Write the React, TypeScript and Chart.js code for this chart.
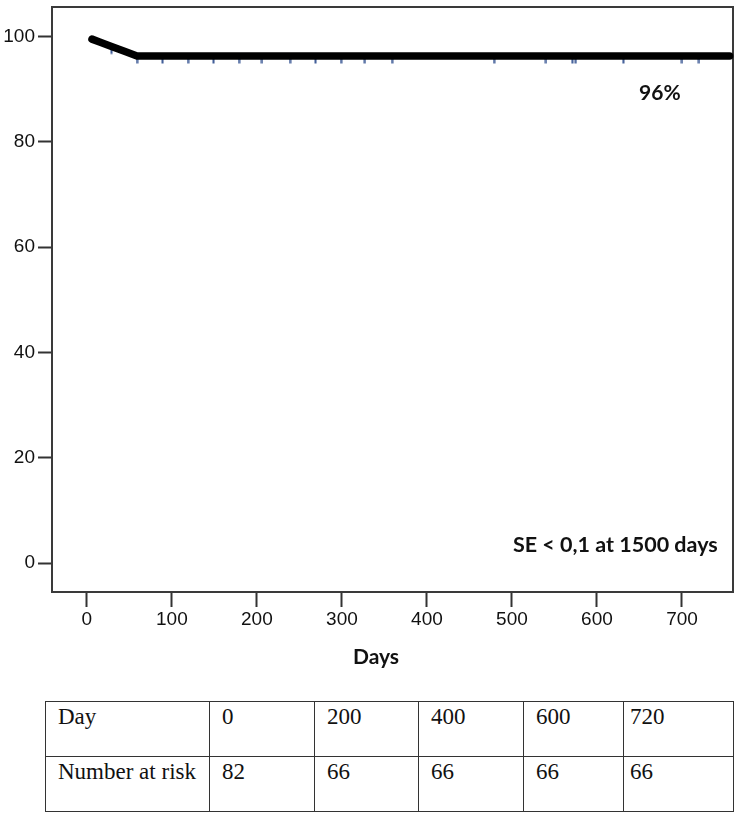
import React, { useEffect, useRef } from "react";
import { Chart, registerables } from "chart.js";

Chart.register(...registerables);

// Kaplan-Meier curve (days, survival %)
const curveDays = [6, 15, 29, 45, 59, 756];
const curveSurvival = [99.5, 98.95, 98.1, 97.15, 96.3, 96.3];

// Censoring marks
const censorDays = [29, 59, 89, 119, 149, 179, 206, 239, 269, 299, 327, 359, 479, 540, 571, 575, 631, 700, 720];
const censorSurvival = [98.1, 96.3, 96.3, 96.3, 96.3, 96.3, 96.3, 96.3, 96.3, 96.3, 96.3, 96.3, 96.3, 96.3, 96.3, 96.3, 96.3, 96.3, 96.3];

const xTicks = [0, 100, 200, 300, 400, 500, 600, 700];
const yTicks = [0, 20, 40, 60, 80, 100];

const tableHeader = "Day";
const tableDays = ["0", "200", "400", "600", "720"];
const tableRowLabel = "Number at risk";
const atRisk = ["82", "66", "66", "66", "66"];

const finalLabel = "96%";
const seLabel = "SE < 0,1 at 1500 days";
const xTitle = "Days";

function makeCensorMark(): HTMLCanvasElement {
  const c = document.createElement("canvas");
  c.width = 3;
  c.height = 22;
  const g = c.getContext("2d")!;
  g.fillStyle = "#3d5a96";
  g.fillRect(0.5, 8, 2, 10.5);
  return c;
}

const framePlugin = {
  id: "frameAndText",
  beforeDatasetsDraw(chart: any) {
    const { ctx, chartArea } = chart;
    ctx.save();
    ctx.strokeStyle = "#3a3a3a";
    ctx.lineWidth = 2;
    ctx.strokeRect(chartArea.left, chartArea.top, chartArea.right - chartArea.left, chartArea.bottom - chartArea.top);
    ctx.restore();
  },
  afterDraw(chart: any) {
    const { ctx } = chart;
    const xs = chart.scales.x;
    const ys = chart.scales.y;
    ctx.save();
    ctx.fillStyle = "#111";
    ctx.textBaseline = "middle";
    ctx.font = "bold 21px Lato, 'Open Sans', sans-serif";
    ctx.textAlign = "center";
    ctx.fillText(finalLabel, xs.getPixelForValue(674), ys.getPixelForValue(89.2));
    ctx.font = "bold 21.5px Lato, 'Open Sans', sans-serif";
    ctx.textAlign = "right";
    ctx.fillText(seLabel, xs.getPixelForValue(742), ys.getPixelForValue(3.4));
    ctx.font = "bold 21px Lato, 'Open Sans', sans-serif";
    ctx.textAlign = "center";
    ctx.fillText(xTitle, 376, 657);
    ctx.restore();
  },
};

export default function App() {
  const ref = useRef<HTMLCanvasElement | null>(null);
  useEffect(() => {
    if (!ref.current) return;
    const tickFont = { family: "'Liberation Sans', Arial, sans-serif", size: 19 };
    const mark = makeCensorMark();
    const chart = new Chart(ref.current, {
      type: "scatter",
      data: {
        datasets: [
          {
            type: "line",
            data: curveDays.map((d, i) => ({ x: d, y: curveSurvival[i] })),
            borderColor: "#000",
            borderWidth: 7.5,
            borderCapStyle: "round",
            borderJoinStyle: "round",
            pointRadius: 0,
            fill: false,
            tension: 0,
            clip: false,
            order: 1,
          } as any,
          {
            type: "scatter",
            data: censorDays.map((d, i) => ({ x: d, y: censorSurvival[i] })),
            pointStyle: mark,
            pointRadius: 6,
            order: 2,
          } as any,
        ],
      },
      options: {
        animation: false,
        responsive: false,
        maintainAspectRatio: false,
        layout: { padding: { top: 5, right: 9, left: 0, bottom: 0 } },
        plugins: { legend: { display: false }, tooltip: { enabled: false } },
        scales: {
          x: {
            type: "linear",
            min: -41,
            max: 760,
            afterBuildTicks: (s: any) => {
              s.ticks = xTicks.map((v) => ({ value: v }));
            },
            afterFit: (s: any) => {
              s.height = 98;
              s.paddingLeft = 0;
              s.paddingRight = 0;
            },
            grid: { drawOnChartArea: false, drawTicks: true, tickLength: 15, tickWidth: 2, tickColor: "#333" },
            border: { display: false },
            ticks: { font: tickFont, color: "#111", padding: 1, maxRotation: 0, autoSkip: false },
          },
          y: {
            type: "linear",
            min: -5.5,
            max: 105.6,
            afterBuildTicks: (s: any) => {
              s.ticks = yTicks.map((v) => ({ value: v }));
            },
            afterFit: (s: any) => {
              s.width = 52;
              s.paddingTop = 0;
              s.paddingBottom = 0;
            },
            grid: { drawOnChartArea: false, drawTicks: true, tickLength: 14, tickWidth: 2, tickColor: "#333" },
            border: { display: false },
            ticks: { font: tickFont, color: "#111", padding: 3, autoSkip: false },
          },
        },
      } as any,
      plugins: [framePlugin],
    });
    return () => chart.destroy();
  }, []);

  const border = "1.5px solid #333";
  const cellBase: React.CSSProperties = {
    border,
    verticalAlign: "top",
    padding: "2px 0 0 12px",
    fontFamily: "'Liberation Serif', 'Times New Roman', serif",
    fontSize: 23,
    lineHeight: "26px",
    color: "#111",
    height: 55,
    boxSizing: "border-box",
    textAlign: "left",
  };
  const widths = [164, 105, 104, 105, 100, 110];

  return (
    <div style={{ position: "absolute", left: 0, top: 0, width: 742, height: 815, background: "#fff" }}>
      <canvas ref={ref} width={742} height={690} style={{ position: "absolute", left: 0, top: 0, width: 742, height: 690 }} />
      <table
        style={{
          position: "absolute",
          left: 45,
          top: 701,
          width: 688,
          borderCollapse: "collapse",
          tableLayout: "fixed",
        }}
      >
        <colgroup>
          {widths.map((w, i) => (
            <col key={i} style={{ width: w }} />
          ))}
        </colgroup>
        <tbody>
          <tr>
            <td style={cellBase}>{tableHeader}</td>
            {tableDays.map((d, i) => (
              <td key={i} style={{ ...cellBase, paddingLeft: i === 4 ? 6 : 12 }}>{d}</td>
            ))}
          </tr>
          <tr>
            <td style={cellBase}>{tableRowLabel}</td>
            {atRisk.map((d, i) => (
              <td key={i} style={{ ...cellBase, paddingLeft: i === 4 ? 6 : 12 }}>{d}</td>
            ))}
          </tr>
        </tbody>
      </table>
    </div>
  );
}
